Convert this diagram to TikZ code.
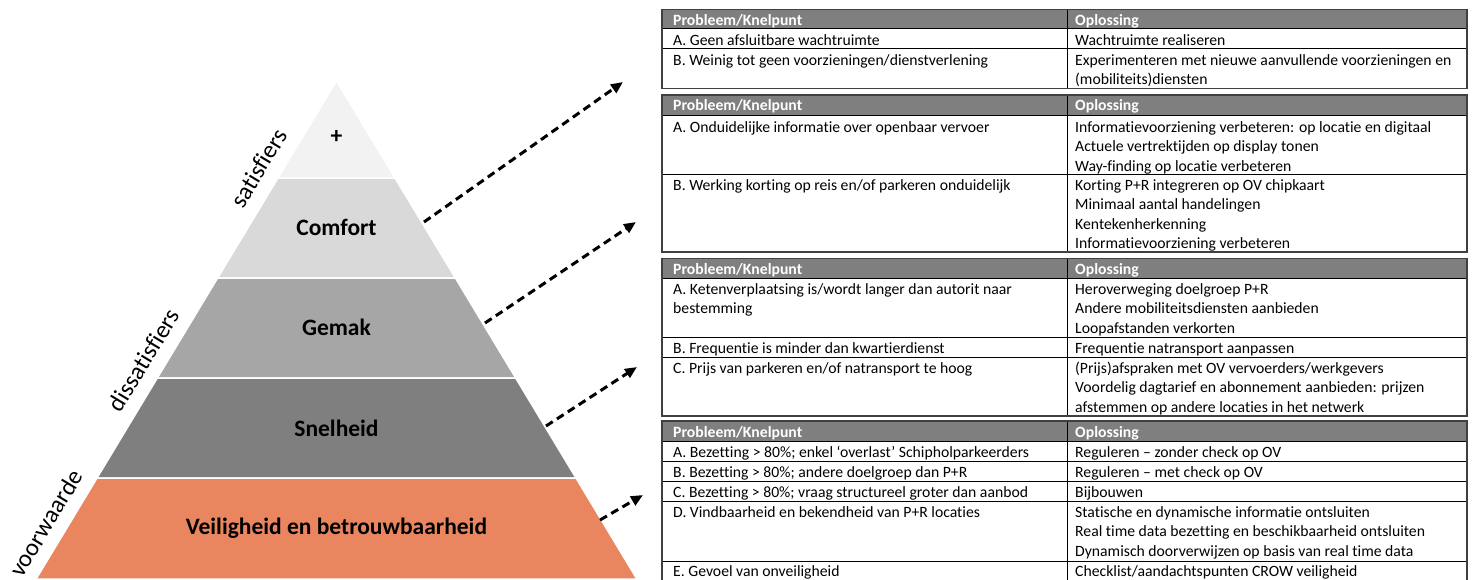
\documentclass[tikz,border=0pt]{standalone}
\usepackage{fontspec}
\setmainfont{Carlito}[Ligatures=NoCommon]
\usetikzlibrary{arrows.meta}
\definecolor{bandA}{HTML}{F2F2F2}
\definecolor{bandB}{HTML}{D9D9D9}
\definecolor{bandC}{HTML}{A6A6A6}
\definecolor{bandD}{HTML}{7F7F7F}
\definecolor{bandE}{HTML}{E9865F}
\definecolor{hdrgray}{HTML}{7F7F7F}
\definecolor{rulegray}{HTML}{404040}
\tikzset{
  band/.style={draw=white, line width=1.5pt},
  bandlabel/.style={font=\fontsize{23.5}{28}\selectfont\bfseries},
  sidelabel/.style={font=\fontsize{24.5}{28}\selectfont, rotate=58.9},
  cell/.style={anchor=base west, inner sep=0pt, align=left, font=\fontsize{15.7}{19.4}\selectfont, yshift=-1pt},
  hdr/.style={cell, text=white, font=\fontsize{15.7}{19.4}\selectfont\bfseries},
  tablebox/.style={draw=rulegray, line width=1.5pt},
  rowline/.style={draw=black, line width=0.8pt},
  dasharrow/.style={line width=3pt, dash pattern=on 8pt off 5pt, -{Triangle[length=12pt,width=10pt]}},
}
\begin{document}
\begin{tikzpicture}[x = 1pt, y = -1pt]
\useasboundingbox (0,0) rectangle (1472,579);
\clip (0,0) rectangle (1472,579);
% pyramid
\coordinate (apex) at (336.5,81);
\coordinate (l1) at (278,178);   \coordinate (r1) at (395,178);
\coordinate (l2) at (217.6,278); \coordinate (r2) at (455.4,278);
\coordinate (l3) at (157.3,378); \coordinate (r3) at (515.7,378);
\coordinate (l4) at (97,478);    \coordinate (r4) at (576,478);
\coordinate (l5) at (36.1,579);  \coordinate (r5) at (636.9,579);
\filldraw[band, fill=bandA] (apex) -- (r1) -- (l1) -- cycle;
\filldraw[band, fill=bandB] (l1) -- (r1) -- (r2) -- (l2) -- cycle;
\filldraw[band, fill=bandC] (l2) -- (r2) -- (r3) -- (l3) -- cycle;
\filldraw[band, fill=bandD] (l3) -- (r3) -- (r4) -- (l4) -- cycle;
\filldraw[band, fill=bandE] (l4) -- (r4) -- (r5) -- (l5) -- cycle;
\node[bandlabel] (plus) at (336.5,137) {+};
\node[bandlabel] (comfort) at (336.5,227) {Comfort};
\node[bandlabel] (gemak) at (336.5,327) {Gemak};
\node[bandlabel] (snelheid) at (336.5,428) {Snelheid};
\node[bandlabel] (veilig) at (336.5,528) {Veiligheid en betrouwbaarheid};
\node[sidelabel] (sat) at (258.5,168) {satisfiers}; %top
\node[sidelabel] (dissat) at (143.5,360) {dissatisfiers}; %middle
\node[sidelabel] (voorw) at (46,523) {voorwaarde}; %bottom
% arrows
\coordinate (a1s) at (424,222); \coordinate (a1e) at (623,82);
\coordinate (a2s) at (485,323); \coordinate (a2e) at (636,222);
\coordinate (a3s) at (546,426); \coordinate (a3e) at (637,367);
\coordinate (a4s) at (600,520); \coordinate (a4e) at (643,495);
\draw[dasharrow] (a1s) -- (a1e);
\draw[dasharrow] (a2s) -- (a2e);
\draw[dasharrow] (a3s) -- (a3e);
\draw[dasharrow] (a4s) -- (a4e);
% table 1 (multi-line cells sit on their last baseline)
\fill[hdrgray] (662,9.5) rectangle (1467,28.5);
\draw[rowline] (662,28.5) -- (1467,28.5);
\draw[rowline] (662,48) -- (1467,48);
\draw[rowline] (1067,9.5) -- (1067,88.5);
\draw[tablebox] (662,9.5) rectangle (1467,88.5);
\node[hdr] (t1hl) at (673,24) {Probleem/Knelpunt};
\node[hdr] (t1hr) at (1075,24) {Oplossing};
\node[cell] (t1al) at (673,44.5) {A. Geen afsluitbare wachtruimte};
\node[cell] (t1ar) at (1075,44.5) {Wachtruimte realiseren};
\node[cell] (t1bl) at (673,64.5) {B. Weinig tot geen voorzieningen/dienstverlening};
\node[cell] (t1br) at (1075,83.9) {Experimenteren met nieuwe aanvullende voorzieningen en\\(mobiliteits)diensten};
% table 2
\fill[hdrgray] (662,95) rectangle (1467,115);
\draw[rowline] (662,115) -- (1467,115);
\draw[rowline] (662,174) -- (1467,174);
\draw[rowline] (1067,95) -- (1067,252);
\draw[tablebox] (662,95) rectangle (1467,252);
\node[hdr] (t2hl) at (673,109.5) {Probleem/Knelpunt};
\node[hdr] (t2hr) at (1075,109.5) {Oplossing};
\node[cell] (t2al) at (673,131.5) {A. Onduidelijke informatie over openbaar vervoer};
\node[cell] (t2ar) at (1075,170.3) {Informatievoorziening verbeteren: op locatie en digitaal\\Actuele vertrektijden op display tonen\\Way-finding op locatie verbeteren};
\node[cell] (t2bl) at (673,189.5) {B. Werking korting op reis en/of parkeren onduidelijk};
\node[cell] (t2br) at (1075,247.7) {Korting P+R integreren op OV chipkaart\\Minimaal aantal handelingen\\Kentekenherkenning\\Informatievoorziening verbeteren};
% table 3
\fill[hdrgray] (662,258.5) rectangle (1467,278.5);
\draw[rowline] (662,278.5) -- (1467,278.5);
\draw[rowline] (662,337.5) -- (1467,337.5);
\draw[rowline] (662,357.5) -- (1467,357.5);
\draw[rowline] (1067,258.5) -- (1067,416);
\draw[tablebox] (662,258.5) rectangle (1467,416);
\node[hdr] (t3hl) at (673,273.5) {Probleem/Knelpunt};
\node[hdr] (t3hr) at (1075,273.5) {Oplossing};
\node[cell] (t3al) at (673,312.9) {A. Ketenverplaatsing is/wordt langer dan autorit naar\\bestemming};
\node[cell] (t3ar) at (1075,332.3) {Heroverweging doelgroep P+R\\Andere mobiliteitsdiensten aanbieden\\Loopafstanden verkorten};
\node[cell] (t3bl) at (673,352.5) {B. Frequentie is minder dan kwartierdienst};
\node[cell] (t3br) at (1075,352.5) {Frequentie natransport aanpassen};
\node[cell] (t3cl) at (673,372.5) {C. Prijs van parkeren en/of natransport te hoog};
\node[cell] (t3cr) at (1075,411.3) {(Prijs)afspraken met OV vervoerders/werkgevers\\Voordelig dagtarief en abonnement aanbieden: prijzen\\afstemmen op andere locaties in het netwerk};
% table 4
\fill[hdrgray] (662,421) rectangle (1467,441);
\draw[rowline] (662,441) -- (1467,441);
\draw[rowline] (662,461) -- (1467,461);
\draw[rowline] (662,481) -- (1467,481);
\draw[rowline] (662,501) -- (1467,501);
\draw[rowline] (662,561) -- (1467,561);
\draw[rowline] (1067,421) -- (1067,590);
\draw[tablebox] (662,421) rectangle (1467,590);
\node[hdr] (t4hl) at (673,436) {Probleem/Knelpunt};
\node[hdr] (t4hr) at (1075,436) {Oplossing};
\node[cell] (t4al) at (673,456.5) {A. Bezetting > 80\%; enkel ‘overlast’ Schipholparkeerders};
\node[cell] (t4ar) at (1075,456.5) {Reguleren – zonder check op OV};
\node[cell] (t4bl) at (673,476.5) {B. Bezetting > 80\%; andere doelgroep dan P+R};
\node[cell] (t4br) at (1075,476.5) {Reguleren – met check op OV};
\node[cell] (t4cl) at (673,496.5) {C. Bezetting > 80\%; vraag structureel groter dan aanbod};
\node[cell] (t4cr) at (1075,496.5) {Bijbouwen};
\node[cell] (t4dl) at (673,516.5) {D. Vindbaarheid en bekendheid van P+R locaties};
\node[cell] (t4dr) at (1075,555.3) {Statische en dynamische informatie ontsluiten\\Real time data bezetting en beschikbaarheid ontsluiten\\Dynamisch doorverwijzen op basis van real time data};
\node[cell] (t4el) at (673,575.5) {E. Gevoel van onveiligheid};
\node[cell] (t4er) at (1075,575.5) {Checklist/aandachtspunten CROW veiligheid};
\end{tikzpicture}
\end{document}
